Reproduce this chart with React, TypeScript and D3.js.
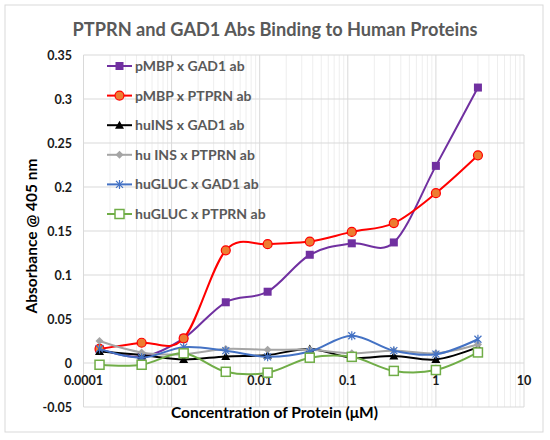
import { useEffect, useRef } from 'react';
import * as d3 from 'd3';

// protein concentration (µM), 3-fold dilutions
const concentrations = [0.000152, 0.000457, 0.00137, 0.00412, 0.0123, 0.037, 0.111, 0.333, 1, 3];

const pmbpGad1 = [0.016, 0.007, 0.028, 0.069, 0.081, 0.123, 0.136, 0.137, 0.224, 0.313];
const pmbpPtprn = [0.016, 0.023, 0.028, 0.128, 0.135, 0.138, 0.149, 0.159, 0.193, 0.236];
const huInsGad1 = [0.013, 0.009, 0.004, 0.0075, 0.009, 0.016, 0.006, 0.008, 0.004, 0.018];
const huInsPtprn = [0.025, 0.012, 0.01, 0.016, 0.015, 0.015, 0.011, 0.014, 0.011, 0.021];
const huGlucGad1 = [0.016, 0.006, 0.018, 0.014, 0.007, 0.013, 0.031, 0.014, 0.01, 0.027];
const huGlucPtprn = [-0.002, -0.002, 0.011, -0.01, -0.011, 0.006, 0.007, -0.009, -0.008, 0.012];

const seriesNames = [
  'pMBP x GAD1 ab',
  'pMBP x PTPRN ab',
  'huINS x GAD1 ab',
  'hu INS x PTPRN ab',
  'huGLUC x GAD1 ab',
  'huGLUC x PTPRN ab'
];

const yTicks = [-0.05, 0, 0.05, 0.1, 0.15, 0.2, 0.25, 0.3, 0.35];
const xTicks = [0.0001, 0.001, 0.01, 0.1, 1, 10];

type Marker = 'square' | 'circle' | 'triangle' | 'diamond' | 'star' | 'openSquare';

const styles: { color: string; marker: Marker }[] = [
  { color: '#7030a0', marker: 'square' },
  { color: '#ff0000', marker: 'circle' },
  { color: '#000000', marker: 'triangle' },
  { color: '#a5a5a5', marker: 'diamond' },
  { color: '#4472c4', marker: 'star' },
  { color: '#70ad47', marker: 'openSquare' }
];

const FONT = 'Lato, "Open Sans", sans-serif';

function drawMarker(g: d3.Selection<SVGGElement, unknown, null, undefined>, kind: Marker, color: string, cx: number, cy: number) {
  if (kind === 'square') {
    g.append('rect').attr('x', cx - 4).attr('y', cy - 4).attr('width', 8).attr('height', 8).attr('fill', color);
  } else if (kind === 'circle') {
    g.append('circle').attr('cx', cx).attr('cy', cy).attr('r', 4.5).attr('fill', '#ed7d31').attr('stroke', color).attr('stroke-width', 1.2);
  } else if (kind === 'triangle') {
    g.append('path').attr('d', `M${cx},${cy - 4.5}L${cx + 4.5},${cy + 3.5}L${cx - 4.5},${cy + 3.5}Z`).attr('fill', color);
  } else if (kind === 'diamond') {
    g.append('path').attr('d', `M${cx},${cy - 4}L${cx + 4},${cy}L${cx},${cy + 4}L${cx - 4},${cy}Z`).attr('fill', color);
  } else if (kind === 'star') {
    g.append('path')
      .attr('d', `M${cx - 3.5},${cy - 3.5}L${cx + 3.5},${cy + 3.5}M${cx + 3.5},${cy - 3.5}L${cx - 3.5},${cy + 3.5}M${cx},${cy - 4.5}L${cx},${cy + 4.5}`)
      .attr('stroke', color)
      .attr('stroke-width', 1.2)
      .attr('fill', 'none');
  } else {
    g.append('rect')
      .attr('x', cx - 4.5)
      .attr('y', cy - 4.5)
      .attr('width', 9)
      .attr('height', 9)
      .attr('fill', '#fff')
      .attr('stroke', color)
      .attr('stroke-width', 1.5);
  }
}

export default function App() {
  const svgRef = useRef<SVGSVGElement | null>(null);

  useEffect(() => {
    const svg = svgRef.current;
    if (!svg) return;

    const width = 550;
    const height = 440;
    const plot = { left: 83.5, right: 524, top: 55, bottom: 407 };

    const x = d3.scaleLog().domain([0.0001, 10]).range([plot.left, plot.right]);
    const y = d3.scaleLinear().domain([-0.05, 0.35]).range([plot.bottom, plot.top]);

    const root = d3.select(svg);
    root.selectAll('*').remove();
    root.attr('viewBox', `0 0 ${width} ${height}`);

    root.append('rect').attr('width', width).attr('height', height).attr('fill', '#fff');
    root
      .append('rect')
      .attr('x', 5)
      .attr('y', 5)
      .attr('width', 538)
      .attr('height', 427)
      .attr('fill', 'none')
      .attr('stroke', '#d9d9d9');

    // minor vertical grid
    const minor: number[] = [];
    for (let e = -4; e < 1; e++) for (let m = 2; m <= 9; m++) minor.push(m * Math.pow(10, e));
    root
      .append('g')
      .selectAll('line')
      .data(minor)
      .join('line')
      .attr('x1', (d) => x(d))
      .attr('x2', (d) => x(d))
      .attr('y1', plot.top)
      .attr('y2', plot.bottom)
      .attr('stroke', '#eeeeee')
      .attr('stroke-width', 1);

    // major grid
    root
      .append('g')
      .selectAll('line')
      .data(xTicks)
      .join('line')
      .attr('x1', (d) => x(d))
      .attr('x2', (d) => x(d))
      .attr('y1', plot.top)
      .attr('y2', plot.bottom)
      .attr('stroke', '#d9d9d9');
    root
      .append('g')
      .selectAll('line')
      .data(yTicks)
      .join('line')
      .attr('x1', plot.left)
      .attr('x2', plot.right)
      .attr('y1', (d) => y(d))
      .attr('y2', (d) => y(d))
      .attr('stroke', '#d9d9d9');

    // y tick labels
    root
      .append('g')
      .selectAll('text')
      .data(yTicks)
      .join('text')
      .attr('x', 72)
      .attr('y', (d) => y(d) + 4.5)
      .attr('text-anchor', 'end')
      .attr('font-family', FONT)
      .attr('font-weight', 700)
      .attr('font-size', 12.5)
      .attr('fill', '#1a1a1a')
      .text((d) => `${d}`);

    // x tick labels, sitting under the zero line
    root
      .append('g')
      .selectAll('text')
      .data(xTicks)
      .join('text')
      .attr('x', (d) => x(d))
      .attr('y', y(0) + 22)
      .attr('text-anchor', 'middle')
      .attr('font-family', FONT)
      .attr('font-weight', 700)
      .attr('font-size', 12.5)
      .attr('fill', '#1a1a1a')
      .text((d) => `${d}`);

    const allSeries = [pmbpGad1, pmbpPtprn, huInsGad1, huInsPtprn, huGlucGad1, huGlucPtprn];

    const line = d3
      .line<number>()
      .x((_, i) => x(concentrations[i]))
      .y((d) => y(d))
      .curve(d3.curveCatmullRom.alpha(0));

    allSeries.forEach((vals, si) => {
      const st = styles[si];
      const g = root.append('g');
      g.append('path')
        .datum(vals)
        .attr('fill', 'none')
        .attr('stroke', st.color)
        .attr('stroke-width', 2)
        .attr('d', line);
      vals.forEach((v, i) => drawMarker(g, st.marker, st.color, x(concentrations[i]), y(v)));
    });

    // legend
    seriesNames.forEach((name, i) => {
      const st = styles[i];
      const cy = 66 + i * 29.6;
      const g = root.append('g');
      g.append('line')
        .attr('x1', 107)
        .attr('x2', 132)
        .attr('y1', cy)
        .attr('y2', cy)
        .attr('stroke', st.color)
        .attr('stroke-width', 2);
      drawMarker(g, st.marker, st.color, 119.5, cy);
      g.append('text')
        .attr('x', 135)
        .attr('y', cy + 5)
        .attr('font-family', FONT)
        .attr('font-weight', 700)
        .attr('font-size', 14)
        .attr('fill', '#595959')
        .text(name);
    });

    // titles
    root
      .append('text')
      .attr('x', 275)
      .attr('y', 36)
      .attr('text-anchor', 'middle')
      .attr('font-family', FONT)
      .attr('font-weight', 700)
      .attr('font-size', 18.2)
      .attr('fill', '#595959')
      .text('PTPRN and GAD1 Abs Binding to Human Proteins');

    root
      .append('text')
      .attr('x', 274.5)
      .attr('y', 417.5)
      .attr('text-anchor', 'middle')
      .attr('font-family', FONT)
      .attr('font-weight', 700)
      .attr('font-size', 15.5)
      .attr('fill', '#000')
      .text('Concentration of Protein (μM)');

    root
      .append('text')
      .attr('transform', `translate(37,236) rotate(-90)`)
      .attr('text-anchor', 'middle')
      .attr('font-family', FONT)
      .attr('font-weight', 700)
      .attr('font-size', 15.5)
      .attr('fill', '#000')
      .text('Absorbance @ 405 nm');
  }, []);

  return (
    <svg
      ref={svgRef}
      width={550}
      height={440}
      style={{ position: 'absolute', left: 0, top: 0, display: 'block' }}
    />
  );
}
